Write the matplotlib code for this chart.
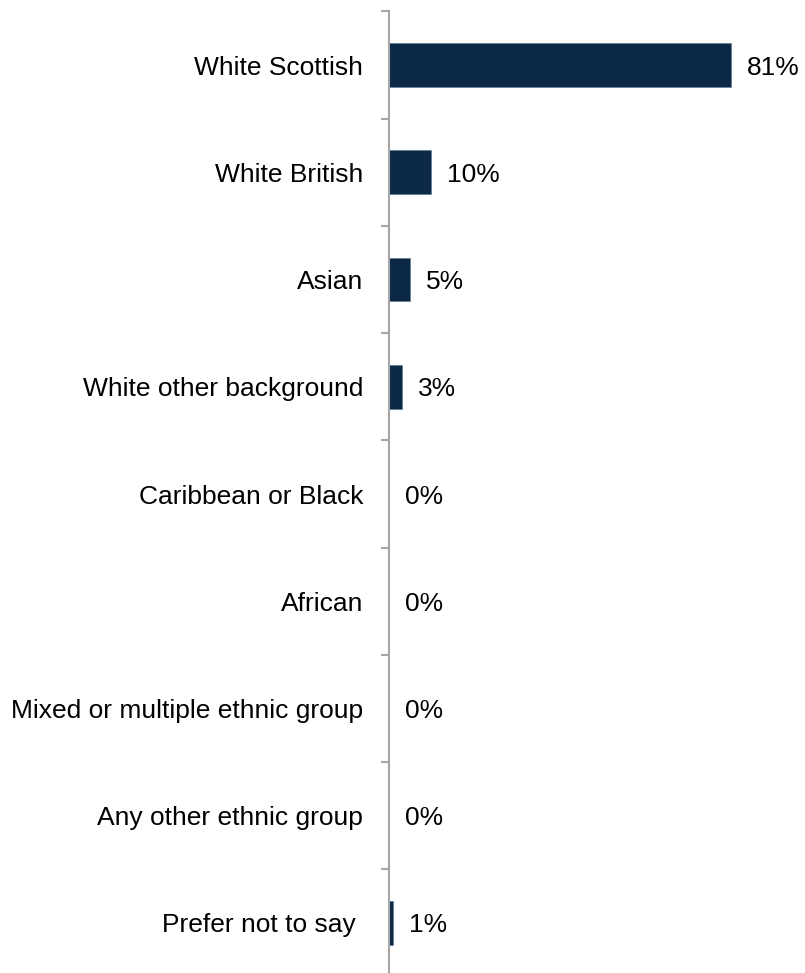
import matplotlib
matplotlib.use("Agg")
import matplotlib.pyplot as plt
from matplotlib.transforms import ScaledTranslation
import numpy as np

categories = ["White Scottish", "White British", "Asian", "White other background",
              "Caribbean or Black", "African", "Mixed or multiple ethnic group",
              "Any other ethnic group", "Prefer not to say "]
values = [81, 10, 5, 3, 0, 0, 0, 0, 1]
labels = ["81%", "10%", "5%", "3%", "0%", "0%", "0%", "0%", "1%"]

NAVY = "#0b2947"
AXIS = "#a6a6a6"
FS = 19

plt.rcParams["font.family"] = ["Liberation Sans", "DejaVu Sans"]

fig = plt.figure(figsize=(8.05, 9.73), dpi=100)
ax = fig.add_axes([389 / 805, -3.6 / 973, 416 / 805, 965.2 / 973])

y = np.arange(len(categories))
ax.barh(y, values, height=0.41, color=NAVY, edgecolor="#5a7590", linewidth=0.4)
ax.set_ylim(len(categories) - 0.5, -0.5)
ax.set_xlim(0, 416 / 4.22)

shift = ScaledTranslation(16 / 100, 0, fig.dpi_scale_trans)
for yi, v, lab in zip(y, values, labels):
    ax.text(v, yi, lab, ha="left", va="center_baseline", fontsize=FS, color="black",
            transform=ax.transData + shift)

ax.set_yticks(y)
ax.set_yticklabels(categories, fontsize=FS, color="black", va="center_baseline")
ax.tick_params(axis="y", which="major", length=0, pad=18.5)
ax.set_yticks(np.arange(-0.5, len(categories), 1.0), minor=True)
ax.tick_params(axis="y", which="minor", length=6, width=1.5, color=AXIS, direction="out")

for s in ("top", "right", "bottom"):
    ax.spines[s].set_visible(False)
ax.spines["left"].set_color(AXIS)
ax.spines["left"].set_linewidth(1.5)
ax.set_xticks([])
ax.patch.set_alpha(0)

fig.savefig("out.png", dpi=100)
